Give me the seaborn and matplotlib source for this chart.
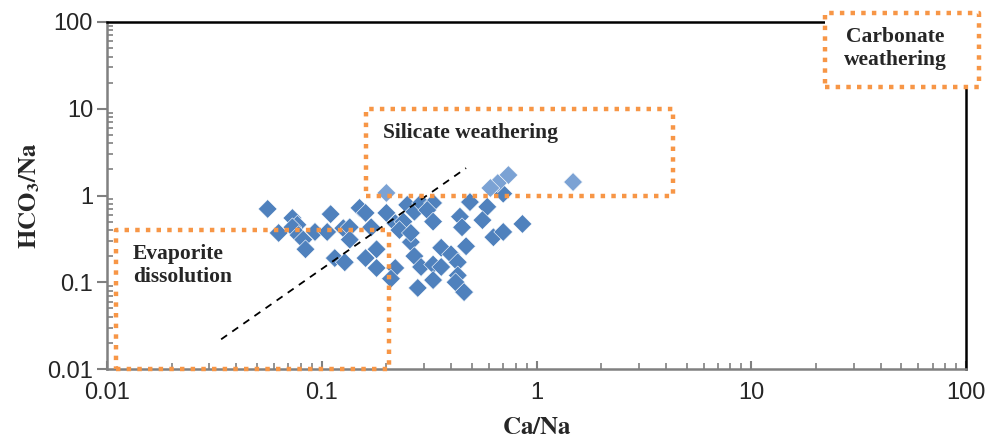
import matplotlib
matplotlib.use("Agg")
import matplotlib.pyplot as plt
import matplotlib.ticker as mticker
from matplotlib.patches import Rectangle
import pandas as pd
import seaborn as sns

# Ca/Na vs HCO3/Na ratios
ca_na = [0.056, 0.073, 0.077, 0.073, 0.063, 0.078, 0.082, 0.084, 0.11, 0.093,
         0.106, 0.126, 0.115, 0.128, 0.15, 0.16, 0.20, 0.25, 0.27, 0.29,
         0.22, 0.24, 0.135, 0.17, 0.23, 0.135, 0.18, 0.16, 0.18, 0.22,
         0.21, 0.26, 0.27, 0.29, 0.28, 0.70, 0.49, 0.59, 0.33, 0.31,
         0.44, 0.56, 0.86, 0.33, 0.45, 0.63, 0.70, 0.36, 0.40, 0.47,
         0.33, 0.36, 0.43, 0.43, 0.42, 0.33, 0.46, 0.26]
hco3_na = [0.70, 0.55, 0.46, 0.43, 0.37, 0.35, 0.31, 0.24, 0.61, 0.38,
           0.38, 0.42, 0.19, 0.17, 0.72, 0.63, 0.63, 0.78, 0.65, 0.82,
           0.48, 0.50, 0.43, 0.43, 0.40, 0.31, 0.24, 0.19, 0.146, 0.146,
           0.11, 0.29, 0.20, 0.15, 0.086, 1.05, 0.84, 0.74, 0.82, 0.68,
           0.57, 0.52, 0.47, 0.50, 0.43, 0.33, 0.38, 0.25, 0.21, 0.26,
           0.16, 0.15, 0.17, 0.12, 0.10, 0.106, 0.077, 0.37]
# samples drawn in the lighter blue
ca_na_light = [0.20, 0.74, 0.66, 0.61, 1.48]
hco3_na_light = [1.07, 1.72, 1.39, 1.22, 1.43]

# dashed reference line
trend_x = [0.034, 0.47]
trend_y = [0.022, 2.07]

# process fields: (x0, x1, y0, y1)
evaporite_box = (0.011, 0.205, 0.01, 0.40)
silicate_box = (0.16, 4.3, 1.0, 10.0)
carbonate_box = (22.0, 115.0, 18.0, 127.0)

tick_vals = [0.01, 0.1, 1, 10, 100]
tick_labels = ["0.01", "0.1", "1", "10", "100"]

dark_blue = "#4F81BD"
light_blue = "#7BA2D4"
orange = "#F79646"

sns.set_style("white")
plt.rcParams["font.family"] = ["Liberation Sans", "DejaVu Sans"]
plt.rcParams["mathtext.fontset"] = "stix"

df = pd.concat([
    pd.DataFrame({"ca_na": ca_na, "hco3_na": hco3_na, "group": "main"}),
    pd.DataFrame({"ca_na": ca_na_light, "hco3_na": hco3_na_light, "group": "light"}),
], ignore_index=True)

fig = plt.figure(figsize=(10, 4.38), dpi=100)
ax = fig.add_axes([0.107, 0.1575, 0.859, 0.7923])

sns.scatterplot(data=df, x="ca_na", y="hco3_na", hue="group",
                palette={"main": dark_blue, "light": light_blue},
                marker="D", s=92, edgecolor="white", linewidth=0.4,
                legend=False, ax=ax, zorder=3)

ax.plot(trend_x, trend_y, color="black", lw=1.3, ls=(0, (4, 3.5)), zorder=4)

ax.set_xscale("log")
ax.set_yscale("log")
ax.set_xlim(0.01, 100)
ax.set_ylim(0.01, 100)
ax.set_xticks(tick_vals)
ax.set_xticklabels(tick_labels)
ax.set_yticks(tick_vals)
ax.set_yticklabels(tick_labels)
ax.xaxis.set_minor_locator(mticker.LogLocator(base=10, subs=range(2, 10)))
ax.yaxis.set_minor_locator(mticker.LogLocator(base=10, subs=range(2, 10)))
ax.xaxis.set_minor_formatter(mticker.NullFormatter())
ax.yaxis.set_minor_formatter(mticker.NullFormatter())

ax.tick_params(axis="x", which="both", bottom=True, top=False)
ax.tick_params(axis="y", which="both", left=True, right=False)
ax.tick_params(axis="both", which="major", labelsize=17, color="#808080", width=1.5)
ax.tick_params(axis="y", which="major", direction="out", length=7, pad=3)
ax.tick_params(axis="x", which="major", direction="in", length=6, pad=9)
ax.tick_params(axis="both", which="minor", direction="in", length=4,
               color="#808080", width=1.2)

for side in ["left", "bottom"]:
    ax.spines[side].set_color("#808080")
    ax.spines[side].set_linewidth(1.8)
for side in ["top", "right"]:
    ax.spines[side].set_color("black")
    ax.spines[side].set_linewidth(1.8)

ax.set_xlabel(r"$\mathbf{Ca/Na}$", fontsize=18, labelpad=8)
ax.set_ylabel(r"$\mathbf{HCO_3/Na}$", fontsize=18, labelpad=4)

dot = (0, (1.0, 1.4))
for (x0, x1, y0, y1), fill in [(evaporite_box, False), (silicate_box, False),
                              (carbonate_box, True)]:
    rect = Rectangle((x0, y0), x1 - x0, y1 - y0, fill=fill,
                     facecolor="white", edgecolor=orange, lw=3.2, ls=dot,
                     clip_on=False, zorder=6, joinstyle="round")
    ax.add_patch(rect)

text_kw = dict(family=["Liberation Serif", "DejaVu Serif"], fontweight="bold",
               fontsize=15.5, zorder=7, linespacing=1.2)
ax.text(0.0132, 0.158, "Evaporite\ndissolution", ha="left", va="center", **text_kw)
ax.text(0.193, 5.25, "Silicate weathering", ha="left", va="center", **text_kw)
ax.text(46.7, 50.0, "Carbonate\nweathering", ha="center", va="center", **text_kw)

fig.savefig("out.png", dpi=100)
